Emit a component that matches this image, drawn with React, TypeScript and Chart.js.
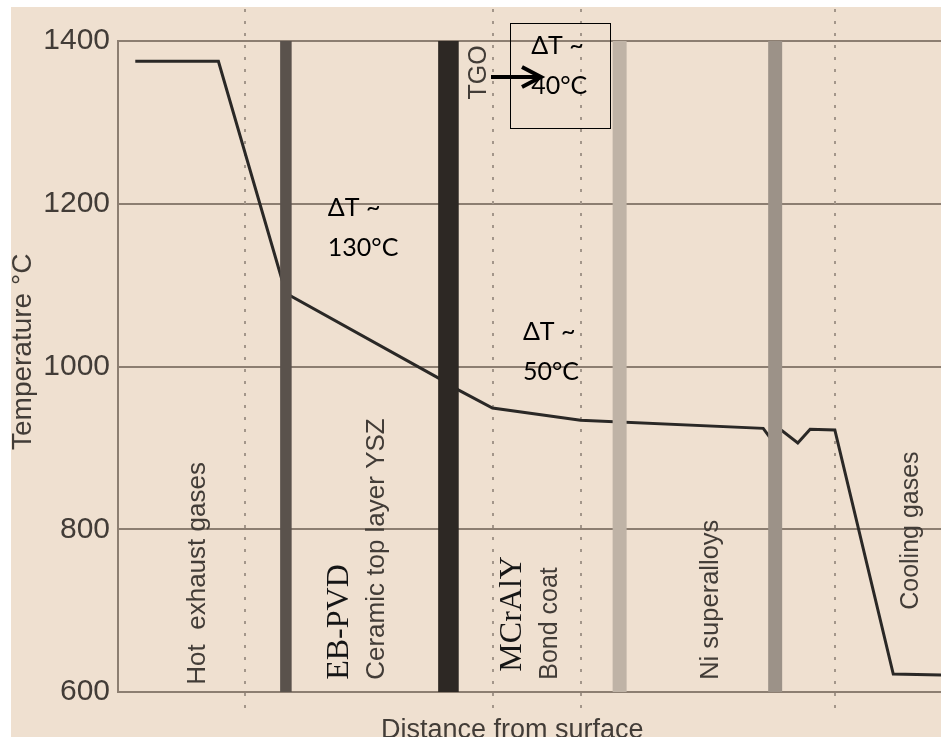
import React, { useEffect, useRef } from "react";
import { Chart, registerables } from "chart.js";

Chart.register(...registerables);

// Temperature profile through a thermal barrier coating system
const distance = [2.1, 12.2, 20.4, 38.9, 41.4, 45.5, 56.2, 78.4, 79.2, 80.7, 82.6, 84.1, 87.1, 94.2, 100];
const temperature = [1375, 1375, 1090, 986, 971, 949, 934, 924, 913, 921, 906, 923, 922, 622, 621];

// Y axis ticks (°C)
const tempTicks = [600, 800, 1000, 1200, 1400];

// Layer interfaces drawn as solid bands (distance units)
const bandStart = [19.7, 38.9, 60.1, 79.0];
const bandEnd = [21.1, 41.4, 61.8, 80.7];

// Zone boundaries drawn as dotted lines
const zoneEdges = [15.4, 45.6, 56.3, 87.1];

// Zone names (sans) and process names (serif)
const zoneNames = ["Hot  exhaust gases", "Ceramic top layer YSZ", "Bond coat", "Ni superalloys", "Cooling gases", "TGO"];
const processNames = ["EB-PVD", "MCrAlY"];

// Temperature drop callouts
const dropLabels = ["ΔT ~\n130°C", "ΔT ~\n50°C", "ΔT ~\n40°C"];

// ---- styling / placement ----
const BG = "#efe0d0";
const GRID = "#8c7e71";
const TEXT = "#423c37";
const bandColors = ["#5a524c", "#2d2824", "#bfb3a6", "#9c9288"];
const zonePlace = [
  { x: 10.6, y: 609, size: 26 },
  { x: 32.3, y: 615, size: 26 },
  { x: 53.3, y: 615, size: 25 },
  { x: 72.9, y: 615, size: 25.5 },
  { x: 97.2, y: 701, size: 25 },
  { x: 44.7, y: 1328, size: 25 },
];
const processPlace = [
  { x: 27.9, y: 615 },
  { x: 49.0, y: 625 },
];
const dropPlace = [
  { x: 25.5, y: 1185 },
  { x: 49.2, y: 1033 },
  { x: 50.2, y: 1384 },
];

function vText(ctx: CanvasRenderingContext2D, text: string, x: number, y: number, font: string, color: string) {
  ctx.save();
  ctx.translate(x, y);
  ctx.rotate(-Math.PI / 2);
  ctx.font = font;
  ctx.fillStyle = color;
  ctx.textAlign = "left";
  ctx.textBaseline = "alphabetic";
  ctx.fillText(text, 0, 0);
  ctx.restore();
}

const backdrop = {
  id: "backdrop",
  beforeDraw(chart: any) {
    const { ctx, width, height } = chart;
    ctx.save();
    ctx.fillStyle = "#ffffff";
    ctx.fillRect(0, 0, width, height);
    ctx.fillStyle = BG;
    ctx.fillRect(11, 7, width - 11, height - 7);
    ctx.restore();
  },
  beforeDatasetsDraw(chart: any) {
    const { ctx } = chart;
    const xs = chart.scales.x;
    ctx.save();
    ctx.strokeStyle = "#a3968a";
    ctx.lineWidth = 2;
    ctx.setLineDash([3, 9]);
    zoneEdges.forEach((d) => {
      const px = Math.round(xs.getPixelForValue(d));
      ctx.beginPath();
      ctx.moveTo(px, 9);
      ctx.lineTo(px, 716);
      ctx.stroke();
    });
    ctx.restore();
  },
  afterDatasetsDraw(chart: any) {
    const { ctx, chartArea } = chart;
    const xs = chart.scales.x;
    ctx.save();
    bandStart.forEach((s, i) => {
      const a = xs.getPixelForValue(s);
      const b = xs.getPixelForValue(bandEnd[i]);
      ctx.fillStyle = bandColors[i];
      ctx.fillRect(a, chartArea.top, b - a, chartArea.bottom - chartArea.top);
    });
    ctx.restore();
  },
  afterDraw(chart: any) {
    const { ctx } = chart;
    const xs = chart.scales.x;
    const ys = chart.scales.y;

    // axis titles
    vText(ctx, "Temperature °C", 31, 450, "28px 'Liberation Sans', Arial, sans-serif", TEXT);
    ctx.save();
    ctx.font = "27px 'Liberation Sans', Arial, sans-serif";
    ctx.fillStyle = TEXT;
    ctx.textAlign = "left";
    ctx.textBaseline = "alphabetic";
    ctx.fillText("Distance from surface", 381, 738);
    ctx.restore();

    zoneNames.forEach((t, i) => {
      const p = zonePlace[i];
      vText(ctx, t, xs.getPixelForValue(p.x), ys.getPixelForValue(p.y), `${p.size}px 'Liberation Sans', Arial, sans-serif`, TEXT);
    });
    processNames.forEach((t, i) => {
      const p = processPlace[i];
      vText(ctx, t, xs.getPixelForValue(p.x), ys.getPixelForValue(p.y), "32px 'Liberation Serif', 'Times New Roman', serif", "#151515");
    });

    // callouts
    ctx.save();
    ctx.font = "25px Lato, 'Open Sans', sans-serif";
    ctx.fillStyle = "#000000";
    ctx.textAlign = "left";
    ctx.textBaseline = "alphabetic";
    dropLabels.forEach((t, i) => {
      const p = dropPlace[i];
      const x = xs.getPixelForValue(p.x);
      const y = ys.getPixelForValue(p.y);
      t.split("\n").forEach((line, k) => ctx.fillText(line, x, y + k * 40));
    });
    ctx.restore();

    // boxed callout with arrow from the TGO label
    ctx.save();
    ctx.strokeStyle = "#000000";
    ctx.lineWidth = 1;
    ctx.strokeRect(510.5, 23.5, 100, 105);
    ctx.lineWidth = 4;
    ctx.lineCap = "butt";
    ctx.beginPath();
    ctx.moveTo(491, 77);
    ctx.lineTo(540, 77);
    ctx.stroke();
    ctx.lineJoin = "miter";
    ctx.beginPath();
    ctx.moveTo(522, 67);
    ctx.lineTo(541, 77);
    ctx.lineTo(522, 87);
    ctx.stroke();
    ctx.restore();
  },
};

export default function App() {
  const ref = useRef<HTMLCanvasElement | null>(null);

  useEffect(() => {
    if (!ref.current) return;
    const chart = new Chart(ref.current, {
      type: "line",
      data: {
        datasets: [
          {
            data: distance.map((d, i) => ({ x: d, y: temperature[i] })),
            borderColor: "#2a2826",
            borderWidth: 3,
            pointRadius: 0,
            tension: 0,
            fill: false,
          },
        ],
      },
      options: {
        animation: false,
        responsive: false,
        devicePixelRatio: 1,
        layout: { padding: { left: 0, top: 41, right: 0, bottom: 45 } },
        plugins: { legend: { display: false }, tooltip: { enabled: false } },
        scales: {
          x: { type: "linear", min: 0, max: 100, display: false },
          y: {
            min: 600,
            max: 1400,
            afterBuildTicks: (s: any) => {
              s.ticks = tempTicks.map((v) => ({ value: v }));
            },
            afterFit: (s: any) => {
              s.width = 118;
            },
            ticks: {
              padding: 8,
              color: TEXT,
              font: { family: "'Liberation Sans', Arial, sans-serif", size: 30 },
              callback: (v: any) => String(v),
            },
            grid: { color: GRID, lineWidth: 2, drawTicks: false },
            border: { color: GRID, width: 2 },
          },
        },
      },
      plugins: [backdrop],
    } as any);
    return () => chart.destroy();
  }, []);

  return (
    <div style={{ position: "absolute", left: 0, top: 0, width: 941, height: 737 }}>
      <canvas ref={ref} width={941} height={737} style={{ display: "block" }} />
    </div>
  );
}
